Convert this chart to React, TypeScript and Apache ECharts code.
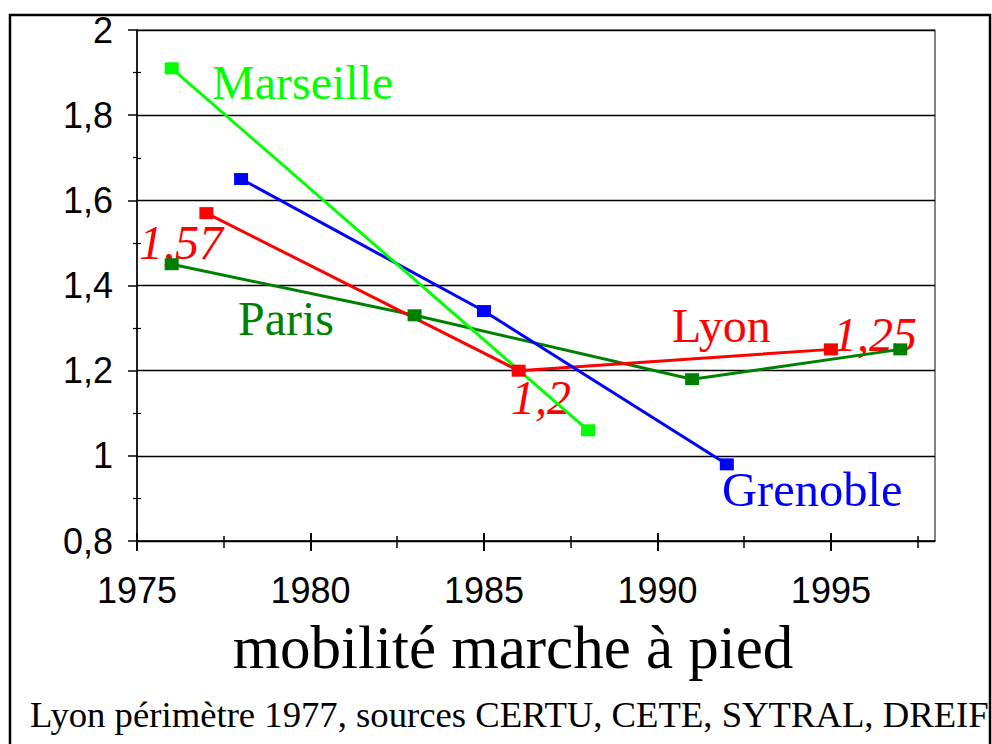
import React, { useEffect, useRef } from "react";
import * as echarts from "echarts";

const marseilleYears = [1976, 1988];
const marseilleValues = [1.91, 1.06];
const grenobleYears = [1978, 1985, 1992];
const grenobleValues = [1.65, 1.34, 0.98];
const lyonYears = [1977, 1986, 1995];
const lyonValues = [1.57, 1.2, 1.25];
const parisYears = [1976, 1983, 1991, 1997];
const parisValues = [1.45, 1.33, 1.18, 1.25];

const majorYears = [1975, 1980, 1985, 1990, 1995];
const minorYears = [1977.5, 1982.5, 1987.5, 1992.5, 1997.5];
const minorYTicks = [0.9, 1.1, 1.3, 1.5, 1.7, 1.9];

const title = "mobilité marche à pied";
const subtitle = "Lyon périmètre 1977, sources CERTU, CETE, SYTRAL, DREIF";

const pair = (xs: number[], ys: number[]) => xs.map((x, i) => [x, ys[i]]);

const SANS = "'Liberation Sans', Arial, sans-serif";
const SERIF = "'Liberation Serif', 'Times New Roman', serif";

export default function App() {
  const ref = useRef<HTMLDivElement>(null);
  useEffect(() => {
    if (!ref.current) return;
    const chart = echarts.init(ref.current, undefined, { renderer: "svg" });
    const xBase = { type: "value", min: 1975, max: 1998, position: "bottom", splitLine: { show: false } };
    const mkLine = (name: string, color: string, data: number[][]) => ({
      name,
      type: "line",
      data,
      symbol: "rect",
      symbolSize: [14, 12],
      lineStyle: { color, width: 3 },
      itemStyle: { color },
      z: 3,
    });
    chart.setOption({
      animation: false,
      backgroundColor: "#ffffff",
      grid: { left: 137, right: 57, top: 30, bottom: 203, show: true, borderColor: "#333", borderWidth: 1.2 },
      xAxis: [
        {
          ...xBase,
          axisLine: { show: true, lineStyle: { color: "#000", width: 1.5 } },
          axisTick: { show: true, inside: false, length: 10, customValues: majorYears, lineStyle: { color: "#000", width: 2 } },
          axisLabel: {
            show: true,
            customValues: majorYears,
            margin: 31,
            color: "#000",
            fontFamily: SANS,
            fontSize: 36,
            formatter: (v: number) => String(Math.round(v)),
          },
        },
        {
          ...xBase,
          axisLine: { show: false },
          axisTick: { show: true, inside: true, length: 8, customValues: majorYears, lineStyle: { color: "#000", width: 2 } },
          axisLabel: { show: false },
        },
        {
          ...xBase,
          axisLine: { show: false },
          axisTick: { show: true, inside: false, length: 7, customValues: minorYears, lineStyle: { color: "#000", width: 1.5 } },
          axisLabel: { show: false },
        },
        {
          ...xBase,
          axisLine: { show: false },
          axisTick: { show: true, inside: true, length: 5, customValues: minorYears, lineStyle: { color: "#000", width: 1.5 } },
          axisLabel: { show: false },
        },
      ],
      yAxis: [
        {
          type: "value",
          min: 0.8,
          max: 2,
          interval: 0.2,
          axisLine: { show: true, lineStyle: { color: "#000", width: 1.5 } },
          axisTick: { show: true, inside: false, length: 9, lineStyle: { color: "#000", width: 1.5 } },
          minorTick: { show: true, splitNumber: 2, length: 4, lineStyle: { color: "#000", width: 1.2 } },
          splitLine: { show: true, lineStyle: { color: "#000", width: 1.3 } },
          axisLabel: {
            margin: 24,
            color: "#000",
            fontFamily: SANS,
            fontSize: 36,
            formatter: (v: number) => String(Math.round(v * 10) / 10).replace(".", ","),
          },
        },
        {
          type: "value",
          min: 0.8,
          max: 2,
          interval: 0.2,
          position: "left",
          axisLine: { show: false },
          axisTick: { show: true, inside: true, length: 4, customValues: minorYTicks, lineStyle: { color: "#000", width: 1.2 } },
          splitLine: { show: false },
          axisLabel: { show: false },
        },
      ],
      series: [
        mkLine("Paris", "#008000", pair(parisYears, parisValues)),
        mkLine("Lyon", "#ff0000", pair(lyonYears, lyonValues)),
        mkLine("Grenoble", "#0000ff", pair(grenobleYears, grenobleValues)),
        mkLine("Marseille", "#00ff00", pair(marseilleYears, marseilleValues)),
      ],
      graphic: [
        {
          type: "rect",
          shape: { x: 10, y: 15, width: 980, height: 760 },
          style: { fill: "none", stroke: "#000", lineWidth: 2.5 },
          silent: true,
        },
        { type: "text", x: 212, y: 82, style: { text: "Marseille", font: `48px ${SERIF}`, fill: "#00ff00", textVerticalAlign: "middle" } },
        { type: "text", x: 238, y: 318, style: { text: "Paris", font: `48px ${SERIF}`, fill: "#008000", textVerticalAlign: "middle" } },
        { type: "text", x: 672, y: 325, style: { text: "Lyon", font: `48px ${SERIF}`, fill: "#ff0000", textVerticalAlign: "middle" } },
        { type: "text", x: 722, y: 489, style: { text: "Grenoble", font: `48.5px ${SERIF}`, fill: "#0000ff", textVerticalAlign: "middle" } },
        { type: "text", x: 139, y: 242, style: { text: "1,57", font: `italic 48px ${SERIF}`, fill: "#ff0000", textVerticalAlign: "middle" } },
        { type: "text", x: 511, y: 397, style: { text: "1,2", font: `italic 48px ${SERIF}`, fill: "#ff0000", textVerticalAlign: "middle" } },
        { type: "text", x: 833, y: 334, style: { text: "1,25", font: `italic 48px ${SERIF}`, fill: "#ff0000", textVerticalAlign: "middle" } },
        { type: "text", x: 513, y: 647, style: { text: title, font: `61px ${SERIF}`, fill: "#000", textAlign: "center", textVerticalAlign: "middle" } },
        { type: "text", x: 30, y: 714, style: { text: subtitle, font: `36.7px ${SERIF}`, fill: "#000", textVerticalAlign: "middle" } },
      ],
    });
    return () => chart.dispose();
  }, []);
  return (
    <div
      ref={ref}
      style={{ position: "fixed", left: 0, top: 0, width: 992, height: 744, background: "#fff" }}
    />
  );
}
